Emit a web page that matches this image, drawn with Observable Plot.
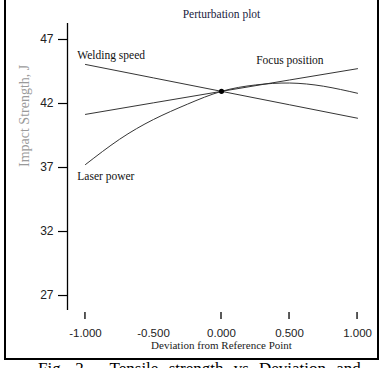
<!DOCTYPE html>
<html>
<head>
<meta charset="utf-8">
<script src="https://cdn.jsdelivr.net/npm/d3@7"></script>
<script src="https://cdn.jsdelivr.net/npm/@observablehq/plot@0.6"></script>
<style>
  html, body { margin: 0; padding: 0; background: #fff; overflow: hidden; }
  #wrap { position: relative; width: 382px; height: 368px; }
  #frame { position: absolute; left: 4px; top: -3px; width: 371px; height: 359px;
           border: 2px solid #000; pointer-events: none; }
  #caption { position: absolute; left: 38px; top: 359px; font-family: "Liberation Serif", serif;
             font-size: 17px; white-space: nowrap; word-spacing: 6px; color: #000; }
  #chart { position: absolute; left: 0; top: 0; }
</style>
</head>
<body>
<div id="wrap">
  <div id="chart"></div>
  <div id="frame"></div>
  <div id="caption">Fig. 2 - Tensile strength vs Deviation and</div>
</div>
<script>
// Deviation from reference point (x) and impact strength (y)
const laserX = [-1, -0.75, -0.5, -0.25, 0, 0.25, 0.5, 0.75, 1];
const laserY = [37.23, 39.2, 40.75, 41.95, 42.95, 43.45, 43.6, 43.35, 42.8];
const weldX = [-1, 0, 1];
const weldY = [45.05, 42.95, 40.85];
const focusX = [-1, 0, 1];
const focusY = [41.15, 42.95, 44.72];
const refX = [0];
const refY = [42.95];

const yTicks = [27, 32, 37, 42, 47];
const xTickLabels = [-1, -0.5, 0, 0.5, 1];
const xTickMarks = [-1, 0, 0.5, 1];

const seriesNames = ["Welding speed", "Focus position", "Laser power"];
const labelX = [-1.06, 0.255, -1.06];
const labelY = [45.75, 45.4, 36.3];

const rows = (name, xs, ys) => xs.map((x, i) => ({series: name, x, y: ys[i]}));
const lines = [
  ...rows("Laser power", laserX, laserY),
  ...rows("Welding speed", weldX, weldY),
  ...rows("Focus position", focusX, focusY)
];
const labels = seriesNames.map((s, i) => ({s, x: labelX[i], y: labelY[i]}));

const xDomain = [-1.132, 1.132];
const yDomain = [25.83, 48.25];
const fmtX = d => d3.format(".3f")(d).replace("\u2212", "-");
const serif = "'Liberation Serif', 'Times New Roman', serif";
const sans = "'Liberation Sans', Arial, sans-serif";

const chart = Plot.plot({
  width: 382,
  height: 360,
  marginLeft: 67,
  marginRight: 7,
  marginTop: 23,
  marginBottom: 50,
  style: {background: "transparent", overflow: "visible"},
  x: {domain: xDomain, axis: null},
  y: {domain: yDomain, axis: null},
  marks: [
    // y axis line
    Plot.ruleX([xDomain[0]], {stroke: "#000", strokeWidth: 1.3}),
    // y ticks and labels
    Plot.axisY(yTicks, {label: null, tickSize: 9, tickPadding: 5, stroke: "#000",
      fontSize: 12, fontFamily: sans, fill: "#222", strokeWidth: 1.2}),
    // x tick marks (floating under the plot)
    Plot.tickX(xTickMarks, {x: d => d, stroke: "#000",
      render: (i, scales, values, dims) => {
        const g = d3.create("svg:g");
        const y0 = dims.height - dims.marginBottom + 2;
        for (const k of i) {
          g.append("line").attr("x1", values.x[k]).attr("x2", values.x[k])
            .attr("y1", y0).attr("y2", y0 + 7).attr("stroke", "#000").attr("stroke-width", 1.3);
        }
        return g.node();
      }}),
    Plot.axisX(xTickLabels, {label: null, tickSize: 0, tickPadding: 0, dy: 18,
      tickFormat: fmtX, fontSize: 11.5, fontFamily: sans, fill: "#222"}),
    // lines
    Plot.line(lines, {x: "x", y: "y", z: "series", stroke: "#2a2a2a", strokeWidth: 0.95,
      curve: "natural"}),
    Plot.dot(refX.map((x, i) => ({x, y: refY[i]})), {x: "x", y: "y", r: 2.6, fill: "#000", stroke: null}),
    // series labels
    Plot.text(labels, {x: "x", y: "y", text: "s", textAnchor: "start",
      fontFamily: serif, fontSize: 11.5, fill: "#111"}),
    // title and axis titles
    Plot.text(["Perturbation plot"], {frameAnchor: "top", dy: -14,
      fontFamily: serif, fontSize: 11.5, fill: "#1a2340"}),
    Plot.text(["Deviation from Reference Point"], {frameAnchor: "bottom", dy: 38,
      fontFamily: serif, fontSize: 11, fill: "#222"}),
    Plot.text(["Impact Strength, J"], {frameAnchor: "left", dx: -43, dy: 0, rotate: -90,
      fontFamily: serif, fontSize: 14, fill: "#9a9a9a"})
  ]
});
document.getElementById("chart").appendChild(chart);
</script>
</body>
</html>
